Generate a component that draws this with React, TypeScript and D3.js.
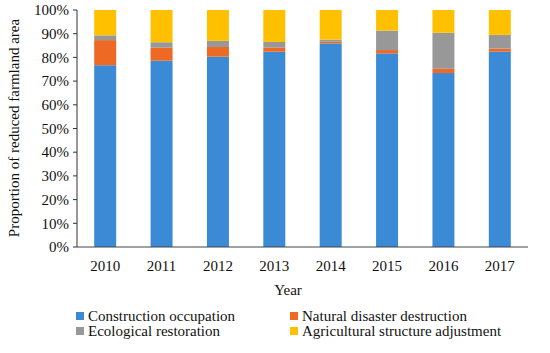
import React from "react";
import * as d3 from "d3";

const years = ["2010", "2011", "2012", "2013", "2014", "2015", "2016", "2017"];
const construction = [76.7, 78.6, 80.3, 82.4, 85.9, 81.7, 73.4, 82.4];
const disaster = [10.6, 5.5, 4.1, 1.8, 0.7, 1.4, 1.8, 1.3];
const ecological = [2.0, 2.3, 2.6, 2.3, 0.9, 8.2, 15.2, 5.8];
const agricultural = [10.7, 13.6, 13.0, 13.5, 12.5, 8.7, 9.6, 10.5];
const yTicks = [0, 10, 20, 30, 40, 50, 60, 70, 80, 90, 100];

const seriesNames = [
  "Construction occupation",
  "Natural disaster destruction",
  "Ecological restoration",
  "Agricultural structure adjustment",
];
const colors = ["#3a8ad6", "#ee6a24", "#989898", "#ffc000"];

const W = 550;
const H = 353;
const margin = { top: 10, right: 22, bottom: 106, left: 77 };
const font = "'Liberation Serif', 'Times New Roman', serif";
const fs = 15;

export default function App() {
  const innerW = W - margin.left - margin.right;
  const innerH = H - margin.top - margin.bottom;

  const rows = years.map((y, i) => ({
    year: y,
    c: construction[i],
    d: disaster[i],
    e: ecological[i],
    a: agricultural[i],
  }));
  const stack = d3.stack<any>().keys(["c", "d", "e", "a"]);
  const layers = stack(rows);

  const x = d3.scaleBand().domain(years).range([0, innerW]).paddingInner(0.61).paddingOuter(0.305);
  const yScale = d3.scaleLinear().domain([0, 100]).range([innerH, 0]);

  const legendPos = [
    { x: 76, y: 316 },
    { x: 290, y: 316 },
    { x: 76, y: 331 },
    { x: 290, y: 331 },
  ];

  return (
    <svg width={W} height={H} style={{ position: "absolute", left: 0, top: 0 }} fontFamily={font}>
      <rect width={W} height={H} fill="#fff" />
      <g transform={`translate(${margin.left},${margin.top})`}>
        {layers.map((layer, li) => (
          <g key={li} fill={colors[li]}>
            {layer.map((d, i) => (
              <rect
                key={i}
                x={x(years[i])}
                width={x.bandwidth()}
                y={yScale(Math.min(d[1], 100))}
                height={yScale(d[0]) - yScale(Math.min(d[1], 100))}
              />
            ))}
          </g>
        ))}
        <line x1={0} x2={0} y1={0} y2={innerH} stroke="#333" strokeWidth={1} />
        {yTicks.map((t) => (
          <g key={t} transform={`translate(0,${yScale(t)})`}>
            <line x1={-4} x2={0} stroke="#333" />
            <text x={-8} dy="0.35em" textAnchor="end" fontSize={fs} fill="#111">
              {t}%
            </text>
          </g>
        ))}
        <line x1={0} x2={innerW} y1={innerH} y2={innerH} stroke="#444" strokeWidth={1.2} />
        {years.map((yr) => (
          <text
            key={yr}
            x={(x(yr) as number) + x.bandwidth() / 2}
            y={innerH + 24}
            textAnchor="middle"
            fontSize={fs}
            fill="#111"
          >
            {yr}
          </text>
        ))}
      </g>
      <text x={288} y={295} textAnchor="middle" fontSize={fs} fill="#111">
        Year
      </text>
      <text
        transform={`translate(19,128) rotate(-90)`}
        textAnchor="middle"
        fontSize={fs}
        fill="#111"
      >
        Proportion of reduced farmland area
      </text>
      {seriesNames.map((name, i) => (
        <g key={name} transform={`translate(${legendPos[i].x},${legendPos[i].y})`}>
          <rect x={0} y={-4} width={8} height={8} fill={colors[i]} />
          <text x={12} dy="0.35em" fontSize={fs} fill="#111">
            {name}
          </text>
        </g>
      ))}
    </svg>
  );
}
